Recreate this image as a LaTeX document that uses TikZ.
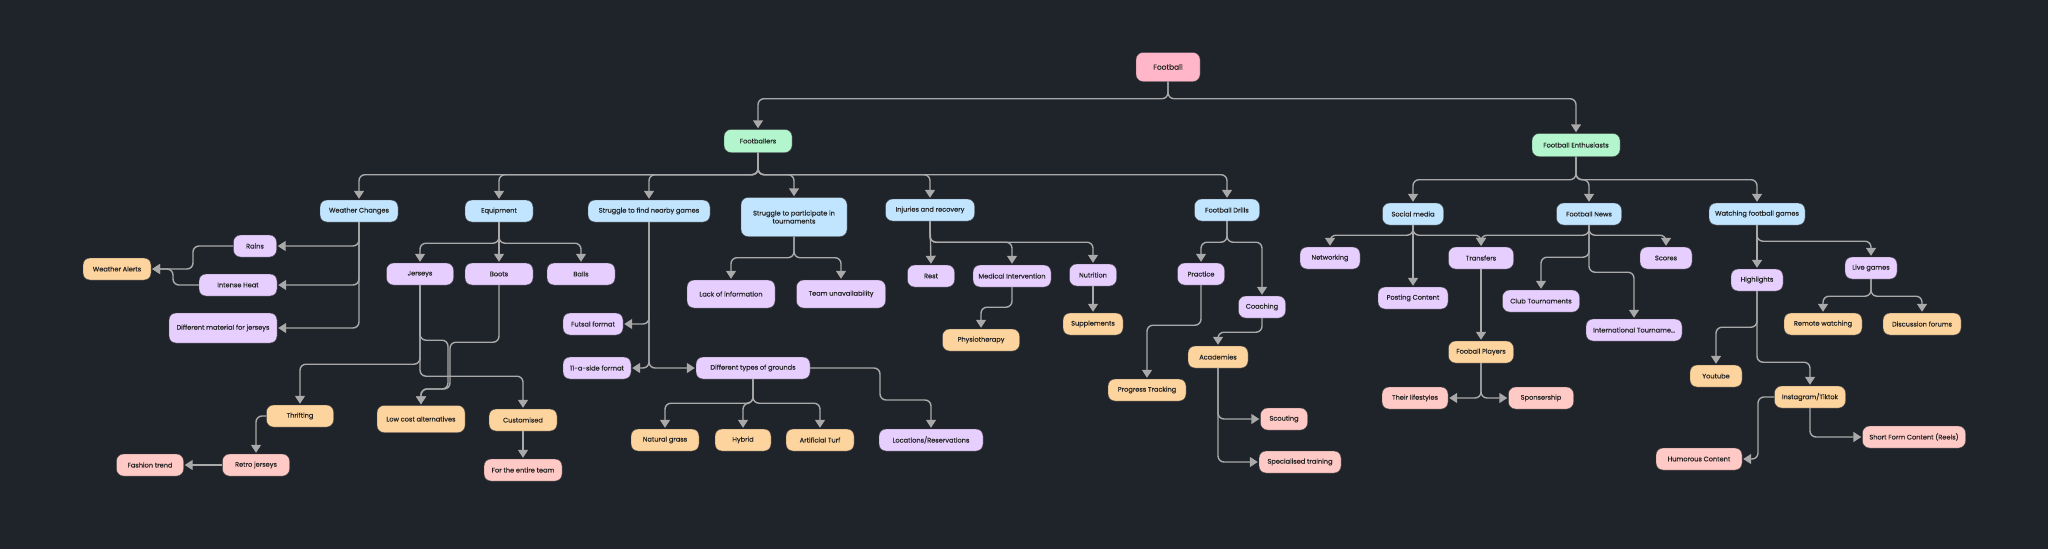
\documentclass[tikz,border=0pt]{standalone}
\usepackage{fontspec}
\setmainfont{Poppins}
\newfontfamily\mapfont{Poppins}[FakeBold=0.5]
\usetikzlibrary{arrows.meta}

\definecolor{bgdark}{HTML}{1F232A}
\definecolor{linkgray}{HTML}{A9A9A9}
\definecolor{txtdark}{HTML}{262626}
\definecolor{rootpink}{HTML}{FFB6C8}
\definecolor{maingreen}{HTML}{B3F5CC}
\definecolor{topicblue}{HTML}{C2E5FF}
\definecolor{sublilac}{HTML}{E6CFFF}
\definecolor{leafpeach}{HTML}{FDD49E}
\definecolor{tipsalmon}{HTML}{FFC9C5}

\tikzset{
  box/.style={rectangle, rounded corners=7pt, draw=black!70, line width=0.4pt,
    inner sep=0pt, minimum height=22, text=txtdark, align=center,
    font=\mapfont\fontsize{6.6}{8}\selectfont},
  rootbox/.style={box, fill=rootpink, font=\mapfont\fontsize{7.4}{9}\selectfont},
  mainbox/.style={box, fill=maingreen},
  topicbox/.style={box, fill=topicblue},
  subbox/.style={box, fill=sublilac},
  leafbox/.style={box, fill=leafpeach},
  tipbox/.style={box, fill=tipsalmon},
  link/.style={draw=linkgray, line width=1.4pt, rounded corners=6pt,
    -{Triangle[width=10pt,length=8pt]}, shorten >=1pt}
}

\begin{document}
\begin{tikzpicture}[x=1pt, y=-1pt]

% --- Sfondo ---
\fill[bgdark] (0,0) rectangle (2048,549);
\useasboundingbox (0,0) rectangle (2048,549);

% --- Radice ---
\node[rootbox, minimum width=64, minimum height=29] (root) at (1168,67) {Football};
\node[mainbox, minimum width=68, minimum height=23] (fbr) at (758,141) {Footballers};
\node[mainbox, minimum width=88, minimum height=23] (fen) at (1576,145) {Football Enthusiasts};

% --- Footballers: argomenti ---
\node[topicbox, minimum width=78] (wch) at (359,211) {Weather Changes};
\node[topicbox, minimum width=68] (equ) at (499,211) {Equipment};
\node[topicbox, minimum width=122] (sfg) at (649,211) {Struggle to find nearby games};
\node[topicbox, minimum width=106, minimum height=39] (spt) at (794,217) {Struggle to participate in\\tournaments};
\node[topicbox, minimum width=89] (inj) at (930,210) {Injuries and recovery};
\node[topicbox, minimum width=65] (dri) at (1227,210) {Football Drills};

% --- Weather Changes ---
\node[subbox, minimum width=43] (rai) at (255,246) {Rains};
\node[subbox, minimum width=78] (hea) at (238,285) {Intense Heat};
\node[subbox, minimum width=108, minimum height=30] (dmj) at (223,328) {Different material for jerseys};
\node[leafbox, minimum width=68] (wal) at (117,269) {Weather Alerts};

% --- Equipment ---
\node[subbox, minimum width=67] (jer) at (420,274) {Jerseys};
\node[subbox, minimum width=68] (boo) at (499,274) {Boots};
\node[subbox, minimum width=68] (bal) at (581,274) {Balls};
\node[leafbox, minimum width=67] (thr) at (300,416) {Thrifting};
\node[leafbox, minimum width=88, minimum height=27] (low) at (421,419) {Low cost alternatives};
\node[leafbox, minimum width=68] (cus) at (523,420) {Customised};
\node[tipbox, minimum width=67] (ret) at (256,465) {Retro jerseys};
\node[tipbox, minimum width=67] (fas) at (150,465) {Fashion trend};
\node[tipbox, minimum width=78] (ent) at (523,470) {For the entire team};

% --- Struggle to find nearby games ---
\node[subbox, minimum width=60] (fut) at (593,324) {Futsal format};
\node[subbox, minimum width=68] (ele) at (597,368) {11-a-side format};
\node[subbox, minimum width=114] (dtg) at (753,368) {Different types of grounds};
\node[leafbox, minimum width=68] (nat) at (665,440) {Natural grass};
\node[leafbox, minimum width=56] (hyb) at (743,440) {Hybrid};
\node[leafbox, minimum width=68] (art) at (820,440) {Artificial Turf};
\node[subbox, minimum width=104] (loc) at (931,440) {Locations/Reservations};

% --- Struggle to participate in tournaments ---
\node[subbox, minimum width=88, minimum height=28] (lac) at (731,294) {Lack of information};
\node[subbox, minimum width=89, minimum height=28] (tea) at (841,294) {Team unavailability};

% --- Injuries and recovery ---
\node[subbox, minimum width=47] (res) at (931,276) {Rest};
\node[subbox, minimum width=78] (med) at (1012,276) {Medical Intervention};
\node[subbox, minimum width=47] (nut) at (1093,275) {Nutrition};
\node[leafbox, minimum width=77] (phy) at (981,340) {Physiotherapy};
\node[leafbox, minimum width=60] (sup) at (1093,324) {Supplements};

% --- Football Drills ---
\node[subbox, minimum width=47] (pra) at (1201,274) {Practice};
\node[subbox, minimum width=47] (coa) at (1262,307) {Coaching};
\node[leafbox, minimum width=78] (pro) at (1147,390) {Progress Tracking};
\node[leafbox, minimum width=60] (aca) at (1218,357) {Academies};
\node[tipbox, minimum width=47] (sco) at (1284,419) {Scouting};
\node[tipbox, minimum width=82] (spe) at (1300,462) {Specialised training};

% --- Football Enthusiasts: argomenti ---
\node[topicbox, minimum width=61] (soc) at (1413,214) {Social media};
\node[topicbox, minimum width=65] (new) at (1589,214) {Football News};
\node[topicbox, minimum width=96] (wat) at (1757,214) {Watching football games};

% --- Social media / Football News ---
\node[subbox, minimum width=60] (net) at (1330,258) {Networking};
\node[subbox, minimum width=70] (pos) at (1413,298) {Posting Content};
\node[subbox, minimum width=65] (tra) at (1481,258) {Transfers};
\node[leafbox, minimum width=65] (fpl) at (1481,352) {Fooball Players};
\node[tipbox, minimum width=66] (lif) at (1415,398) {Their lifestyles};
\node[tipbox, minimum width=65] (spo) at (1541,398) {Sponsership};
\node[subbox, minimum width=52] (scr) at (1666,258) {Scores};
\node[subbox, minimum width=77] (clu) at (1541,301) {Club Tournaments};
\node[subbox, minimum width=96] (int) at (1634,330) {International Tourname…};

% --- Watching football games ---
\node[subbox, minimum width=52] (hig) at (1757,280) {Highlights};
\node[subbox, minimum width=52] (liv) at (1871,268) {Live games};
\node[leafbox, minimum width=78] (rem) at (1823,324) {Remote watching};
\node[leafbox, minimum width=78] (dis) at (1922,324) {Discussion forums};
\node[leafbox, minimum width=52] (you) at (1716,376) {Youtube};
\node[leafbox, minimum width=71] (ins) at (1810,397) {Instagram/Tiktok};
\node[tipbox, minimum width=86] (hum) at (1699,459) {Humorous Content};
\node[tipbox, minimum width=103] (sho) at (1914,437) {Short Form Content (Reels)};

% --- Collegamenti: radice ---
\foreach \c in {fbr, fen}{
  \draw[link] (root.south) -- ++(0,17) -| (\c.north);
}
\foreach \c in {wch, equ, sfg, spt, inj, dri}{
  \draw[link] (fbr.south) -- ++(0,22) -| (\c.north);
}
\foreach \c in {soc, new, wat}{
  \draw[link] (fen.south) -- ++(0,23) -| (\c.north);
}

% --- Collegamenti: Weather Changes ---
\foreach \c in {rai, hea, dmj}{
  \draw[link] (wch.south) |- (\c.east);
}
\draw[link] (rai.west) -- (193,246) |- (wal.east);
\draw[link] (hea.west) -- (173,285) |- (wal.east);

% --- Collegamenti: Equipment ---
\draw[link] (equ.south) -- (boo.north);
\foreach \c in {jer, bal}{
  \draw[link] (equ.south) -- ++(0,21) -| (\c.north);
}
\draw[link] (jer.south) -- ++(0,79) -| (thr.north);
\draw[link] (jer.south) -- ++(0,91) -| (cus.north);
\draw[link] (jer.south) -- ++(0,55) -| (448,389) -| (low.north);
\draw[link] (boo.south) -- ++(0,57) -| (450,389) -| (low.north);
\draw[link] (cus.south) -- (ent.north);
\draw[link] (thr.west) -| (ret.north);
\draw[link] (ret.west) -- (fas.east);

% --- Collegamenti: campi e tornei ---
\draw[link] (sfg.south) |- (fut.east);
\draw[link] (sfg.south) |- (ele.east);
\draw[link] (sfg.south) |- (dtg.west);
\foreach \c in {nat, hyb, art}{
  \draw[link] (dtg.south) -- ++(0,24) -| (\c.north);
}
\draw[link] (dtg.east) -| (880,400) -| (loc.north);
\foreach \c in {lac, tea}{
  \draw[link] (spt.south) -- ++(0,21) -| (\c.north);
}

% --- Collegamenti: Injuries and recovery ---
\draw[link] (inj.south) -- (res.north);
\foreach \c in {med, nut}{
  \draw[link] (inj.south) -- ++(0,21) -| (\c.north);
}
\draw[link] (med.south) -- ++(0,20) -| (phy.north);
\draw[link] (nut.south) -- (sup.north);

% --- Collegamenti: Football Drills ---
\foreach \c in {pra, coa}{
  \draw[link] (dri.south) -- ++(0,21) -| (\c.north);
}
\draw[link] (pra.south) -- ++(0,40) -| (pro.north);
\draw[link] (coa.south) -- ++(0,14) -| (aca.north);
\draw[link] (aca.south) |- (sco.west);
\draw[link] (aca.south) |- (spe.west);

% --- Collegamenti: Social media e News ---
\draw[link] (soc.south) -- (pos.north);
\foreach \c in {net, tra}{
  \draw[link] (soc.south) -- ++(0,10) -| (\c.north);
}
\foreach \c in {tra, scr}{
  \draw[link] (new.south) -- ++(0,10) -| (\c.north);
}
\draw[link] (new.south) -- ++(0,32) -| (clu.north);
\draw[link] (new.south) -- ++(0,47) -| (int.north);
\draw[link] (tra.south) -- (fpl.north);
\draw[link] (fpl.south) |- (lif.east);
\draw[link] (fpl.south) |- (spo.west);

% --- Collegamenti: Watching football games ---
\draw[link] (wat.south) -- (hig.north);
\draw[link] (wat.south) -- ++(0,16) -| (liv.north);
\foreach \c in {rem, dis}{
  \draw[link] (liv.south) -- ++(0,17) -| (\c.north);
}
\draw[link] (hig.south) -- ++(0,36) -| (you.north);
\draw[link] (hig.south) -- ++(0,71) -| (ins.north);
\draw[link] (ins.west) -- (1758,397) |- (hum.east);
\draw[link] (ins.south) |- (sho.west);

\end{tikzpicture}
\end{document}
